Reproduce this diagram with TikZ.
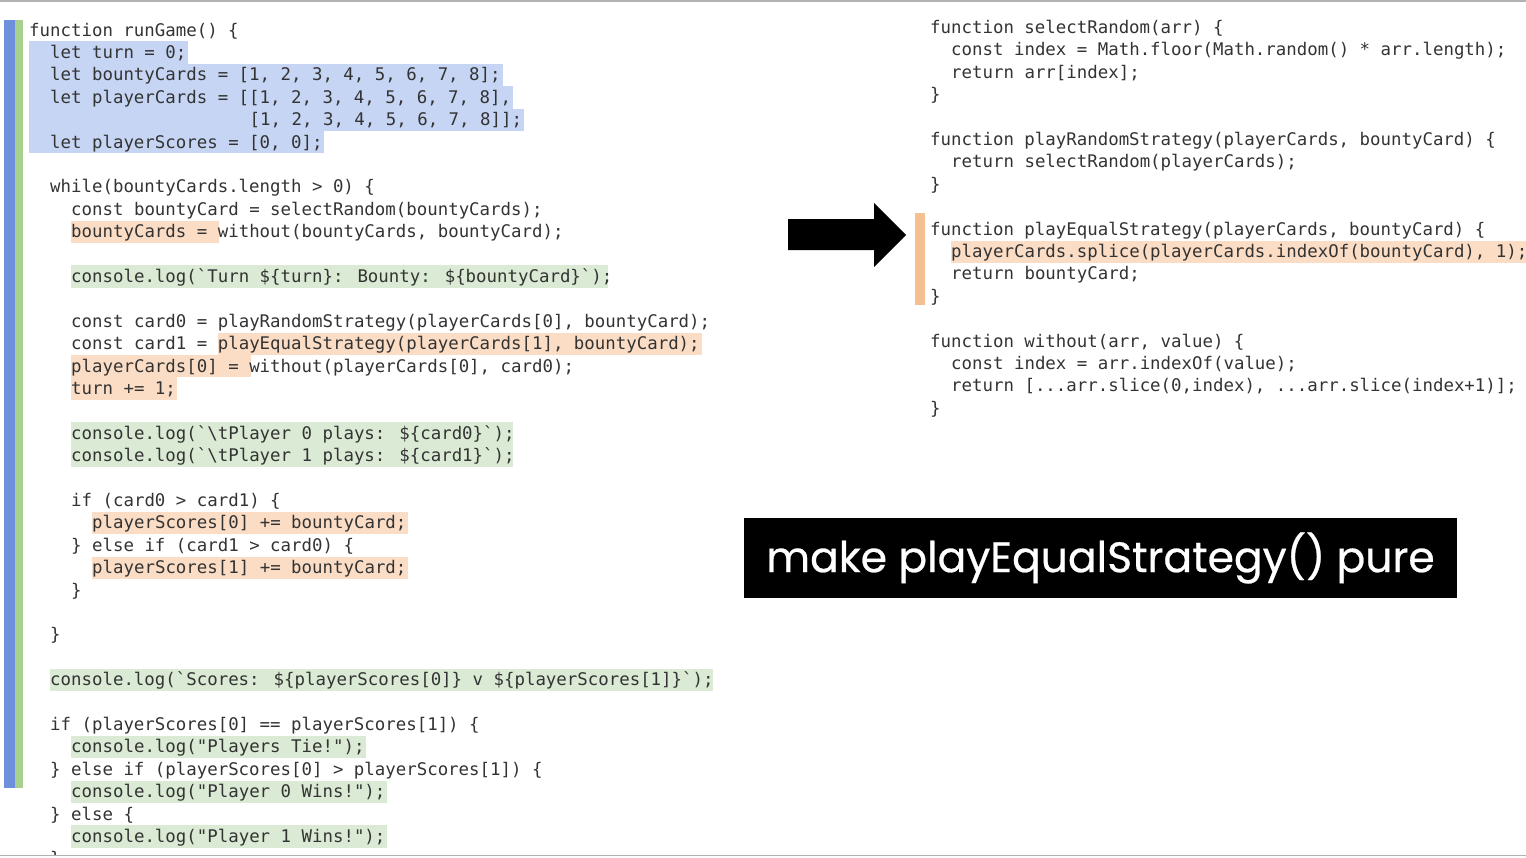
\documentclass[tikz,border=0pt]{standalone}
\usepackage{fontspec}
\newfontfamily\codefont{DejaVu Sans Mono}
\newfontfamily\titlefont[FakeBold=0.6]{Poppins}
\definecolor{hlblue}{HTML}{C6D5F3}
\definecolor{hlorange}{HTML}{FBDDC6}
\definecolor{hlgreen}{HTML}{DAEAD4}
\definecolor{barblue}{HTML}{6E90DC}
\definecolor{bargreen}{HTML}{A9D18E}
\definecolor{barorange}{HTML}{F4C08F}
\definecolor{codetext}{HTML}{333333}
\tikzset{code/.style={inner sep=0pt,anchor=base west,text=codetext,font=\codefont\fontsize{17.4}{20}\selectfont}}
\newcommand\cw{10.5}
\newcommand\lh{22.4}
% left panel
\newcommand\lc[3]{\node[code] (L#2) at ({29+\cw*#1},{36+\lh*#2}) {#3};}
\newcommand\lhl[4]{\fill[#1] ({29+\cw*#3},{36+\lh*#2-17}) rectangle ({29+\cw*#4+1},{36+\lh*#2+5.4});}
% right panel
\newcommand\rc[3]{\node[code] (R#2) at ({930+\cw*#1},{33.5+\lh*#2}) {#3};}
\newcommand\bq{\symbol{96}}
\newcommand\dq{\symbol{34}}
\begin{document}
\begin{tikzpicture}[x=1pt,y=-1pt]
\useasboundingbox (0,0) rectangle (1526,857);
\fill[white] (0,0) rectangle (1526,857);
\begin{scope}
\clip (0,0) rectangle (1526,855);
% bars
\fill[barblue] (4,20) rectangle (15,788);
\fill[bargreen] (15,20) rectangle (23,788);
% highlights left
\lhl{hlblue}{1}{0}{15}
\lhl{hlblue}{2}{0}{45}
\lhl{hlblue}{3}{0}{46}
\lhl{hlblue}{4}{0}{47}
\lhl{hlblue}{5}{0}{28}
\lhl{hlorange}{9}{4}{18}
\lhl{hlgreen}{11}{4}{55}
\lhl{hlorange}{14}{18}{64}
\lhl{hlorange}{15}{4}{21}
\lhl{hlorange}{16}{4}{14}
\lhl{hlgreen}{18}{4}{46}
\lhl{hlgreen}{19}{4}{46}
\lhl{hlorange}{22}{6}{36}
\lhl{hlorange}{24}{6}{36}
\lhl{hlgreen}{29}{2}{65}
\lhl{hlgreen}{32}{4}{32}
\lhl{hlgreen}{34}{4}{34}
\lhl{hlgreen}{36}{4}{34}
% left code
\lc{0}{0}{function runGame() \{}
\lc{2}{1}{let turn = 0;}
\lc{2}{2}{let bountyCards = [1, 2, 3, 4, 5, 6, 7, 8];}
\lc{2}{3}{let playerCards = [[1, 2, 3, 4, 5, 6, 7, 8],}
\lc{21}{4}{[1, 2, 3, 4, 5, 6, 7, 8]];}
\lc{2}{5}{let playerScores = [0, 0];}
\lc{2}{7}{while(bountyCards.length > 0) \{}
\lc{4}{8}{const bountyCard = selectRandom(bountyCards);}
\lc{4}{9}{bountyCards = without(bountyCards, bountyCard);}
\lc{4}{11}{console.log(\bq Turn \$\{turn\}: Bounty: \$\{bountyCard\}\bq);}
\lc{4}{13}{const card0 = playRandomStrategy(playerCards[0], bountyCard);}
\lc{4}{14}{const card1 = playEqualStrategy(playerCards[1], bountyCard);}
\lc{4}{15}{playerCards[0] = without(playerCards[0], card0);}
\lc{4}{16}{turn += 1;}
\lc{4}{18}{console.log(\bq\textbackslash tPlayer 0 plays: \$\{card0\}\bq);}
\lc{4}{19}{console.log(\bq\textbackslash tPlayer 1 plays: \$\{card1\}\bq);}
\lc{4}{21}{if (card0 > card1) \{}
\lc{6}{22}{playerScores[0] += bountyCard;}
\lc{4}{23}{\} else if (card1 > card0) \{}
\lc{6}{24}{playerScores[1] += bountyCard;}
\lc{4}{25}{\}}
\lc{2}{27}{\}}
\lc{2}{29}{console.log(\bq Scores: \$\{playerScores[0]\} v \$\{playerScores[1]\}\bq);}
\lc{2}{31}{if (playerScores[0] == playerScores[1]) \{}
\lc{4}{32}{console.log(\dq Players Tie!\dq);}
\lc{2}{33}{\} else if (playerScores[0] > playerScores[1]) \{}
\lc{4}{34}{console.log(\dq Player 0 Wins!\dq);}
\lc{2}{35}{\} else \{}
\lc{4}{36}{console.log(\dq Player 1 Wins!\dq);}
\lc{2}{37}{\}}
% right panel
\fill[barorange] (915,213) rectangle (925,305);
\fill[hlorange] ({930+\cw*2},{33.5+\lh*10-17}) rectangle (1526,{33.5+\lh*10+5.4});
\rc{0}{0}{function selectRandom(arr) \{}
\rc{2}{1}{const index = Math.floor(Math.random() * arr.length);}
\rc{2}{2}{return arr[index];}
\rc{0}{3}{\}}
\rc{0}{5}{function playRandomStrategy(playerCards, bountyCard) \{}
\rc{2}{6}{return selectRandom(playerCards);}
\rc{0}{7}{\}}
\rc{0}{9}{function playEqualStrategy(playerCards, bountyCard) \{}
\rc{2}{10}{playerCards.splice(playerCards.indexOf(bountyCard), 1);}
\rc{2}{11}{return bountyCard;}
\rc{0}{12}{\}}
\rc{0}{14}{function without(arr, value) \{}
\rc{2}{15}{const index = arr.indexOf(value);}
\rc{2}{16}{return [...arr.slice(0,index), ...arr.slice(index+1)];}
\rc{0}{17}{\}}
\end{scope}
% arrow
\fill[black] (788,219) -- (874,219) -- (874,203) -- (906,235) -- (874,267) -- (874,250) -- (788,250) -- cycle;
% title box
\node[fill=black,minimum width=713pt,minimum height=80pt,inner sep=0pt,text=white,font=\titlefont\fontsize{42.5}{48}\selectfont] (title) at (1100.5,558) {make playEqualStrategy() pure};
% frame lines
\draw[gray!60,line width=1.5pt] (0,1) -- (1526,1);
\draw[gray!60,line width=1.5pt] (0,855.5) -- (1526,855.5);
\end{tikzpicture}
\end{document}
